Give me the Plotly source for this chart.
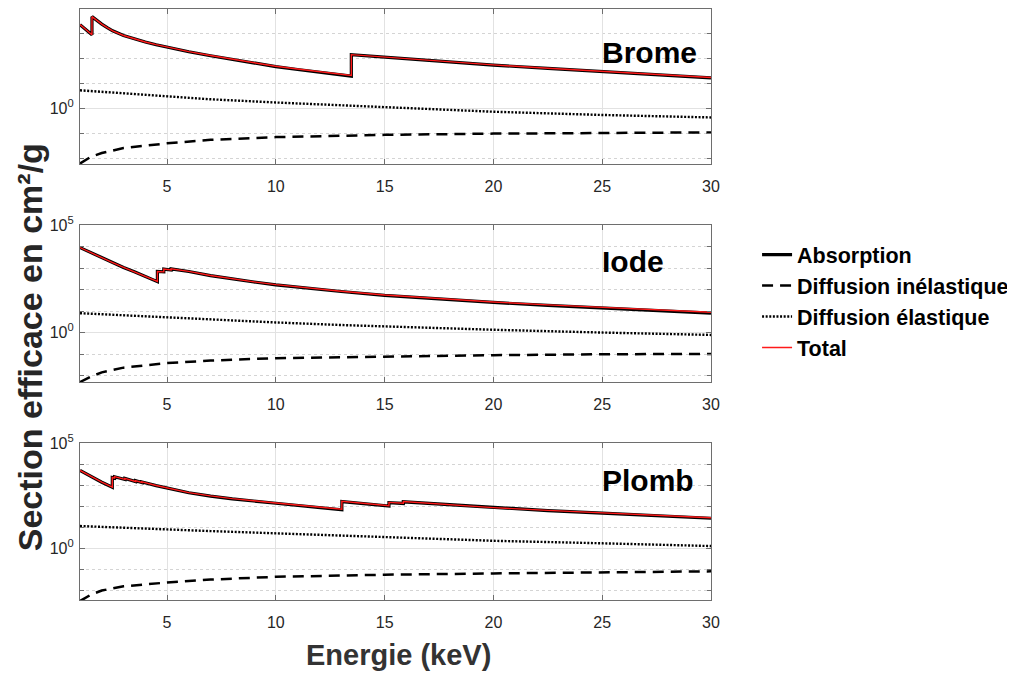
import plotly.graph_objects as go

# ---------------- data (cm²/g vs keV) ----------------
# Brome
br_abs_e = [1.0, 1.55, 1.55, 1.8, 2.0, 2.25, 2.5, 3.0, 3.5, 4.0, 4.5, 5.0, 6.0, 7.0, 8.0, 9.0,
            10.0, 11.0, 12.0, 13.47, 13.47, 15.0, 17.5, 20.0, 22.5, 25.0, 27.5, 30.0]
br_abs = [2290, 891, 4790, 3160, 2400, 1740, 1290, 832, 603, 457, 355, 282, 186, 129, 91, 65,
          47, 36, 28, 19.5, 141, 112, 76, 54, 40, 29.5, 22, 16.6]
br_el_e = [1, 2, 3, 5, 7, 10, 13, 15, 20, 25, 30]
br_el = [5.25, 4.57, 3.89, 2.82, 2.29, 1.70, 1.32, 1.12, 0.724, 0.537, 0.427]
br_inel_e = [1, 1.5, 2, 3, 5, 7, 10, 13, 15, 20, 25, 30]
br_inel = [0.0060, 0.0112, 0.0158, 0.0251, 0.0389, 0.0537, 0.0692, 0.0794, 0.0851, 0.0955, 0.102, 0.107]
br_total = [2300, 896, 4795, 3165, 2405, 1745, 1294, 836, 606, 460, 358, 285, 189, 131, 93, 66.5,
            48.5, 37.5, 29.5, 20.9, 142, 113, 77, 55, 40.6, 30.1, 22.5, 17.1]

# Iode
i_abs_e = [1.0, 1.5, 2.0, 2.5, 3.0, 3.5, 4.0, 4.557, 4.557, 4.852, 4.852, 5.188, 5.188,
           6.0, 7.0, 8.0, 9.0, 10.0, 12.0, 13.0, 15.0, 17.5, 20.0, 22.5, 25.0, 27.5, 30.0]
i_abs = [8910, 5130, 2950, 1780, 1070, 676, 417, 234, 692, 661, 891, 813, 912,
         692, 447, 309, 224, 166, 100, 81.3, 53.7, 35.5, 25.1, 18.2, 13.5, 10.2, 7.94]
i_el_e = [1, 2, 3, 5, 7, 10, 13, 15, 20, 25, 30]
i_el = [7.94, 7.08, 6.17, 5.01, 3.98, 2.95, 2.24, 1.91, 1.35, 1.00, 0.776]
i_inel_e = [1, 1.5, 2, 3, 5, 7, 10, 13, 15, 20, 25, 30]
i_inel = [0.0050, 0.0089, 0.0141, 0.0234, 0.0380, 0.0501, 0.0646, 0.0724, 0.0776, 0.0891, 0.0977, 0.102]
i_total = [8920, 5137, 2957, 1786, 1076, 681, 421, 238, 696, 665, 895, 817, 916,
           696, 451, 312, 227, 169, 102, 83.6, 55.7, 37.1, 26.5, 19.4, 14.6, 11.1, 8.8]

# Plomb
pb_abs_e = [1.0, 1.5, 2.0, 2.484, 2.484, 2.586, 2.586, 3.066, 3.066, 3.554, 3.554, 3.851, 3.851,
            4.5, 5.0, 6.0, 7.0, 8.0, 10.0, 12.0, 13.035, 13.035, 14.0, 15.2, 15.2, 15.86, 15.86,
            17.5, 20.0, 22.5, 25.0, 27.5, 30.0]
pb_abs = [5010, 2510, 1380, 794, 2290, 2140, 2510, 1860, 2090, 1480, 1620, 1320, 1410,
          955, 724, 437, 302, 224, 138, 85.1, 67.6, 166, 132, 102, 148, 135, 162,
          126, 83.2, 61.7, 46.8, 35.5, 26.9]
pb_el_e = [1, 2, 3, 5, 7, 10, 13, 15, 20, 25, 30]
pb_el = [11.5, 10.7, 9.55, 7.94, 6.61, 5.13, 3.89, 3.31, 2.29, 1.74, 1.29]
pb_inel_e = [1, 1.5, 2, 3, 5, 7, 10, 13, 15, 20, 25, 30]
pb_inel = [0.00316, 0.0063, 0.0100, 0.0158, 0.0240, 0.0331, 0.0447, 0.0525, 0.0562, 0.0646, 0.0724, 0.0813]
pb_total = [5020, 2521, 1391, 804, 2300, 2150, 2520, 1870, 2099, 1489, 1629, 1329, 1419,
            963, 732, 444, 308, 229, 143, 89, 71.5, 170, 136, 105.5, 151.5, 138.5, 165.5,
            129, 85.6, 63.8, 48.6, 37.1, 28.3]

x_ticks = [5, 10, 15, 20, 25, 30]
y_tickvals = [1, 1e5]
y_ticktext = ["10<sup>0</sup>", "10<sup>5</sup>"]
decades = [1e-2, 1e-1, 1e1, 1e2, 1e3, 1e4]
panel_names = ["Brome", "Iode", "Plomb"]
legend_names = ["Absorption", "Diffusion inélastique", "Diffusion élastique", "Total"]

# ---------------- figure ----------------
FONT = "Liberation Sans, Arial, sans-serif"
panels = [
    (br_abs_e, br_abs, br_el_e, br_el, br_inel_e, br_inel, br_total),
    (i_abs_e, i_abs, i_el_e, i_el, i_inel_e, i_inel, i_total),
    (pb_abs_e, pb_abs, pb_el_e, pb_el, pb_inel_e, pb_inel, pb_total),
]
y_domains = [[0.7365, 0.998], [0.3682, 0.6334], [0.0, 0.2652]]
y_ranges = [[-2.24, 3.98], [-2.3, 5.0], [-2.45, 5.0]]
label_pos = [0.72, 0.765, 0.76]

fig = go.Figure()
for i, (ea, a, ee, el, ei, inel, tot) in enumerate(panels):
    sfx = "" if i == 0 else str(i + 1)
    xa, ya = "x" + sfx, "y" + sfx
    show = i == 0
    fig.add_trace(go.Scatter(x=ea, y=a, mode="lines", name=legend_names[0],
                             line=dict(color="black", width=3.2), showlegend=show,
                             xaxis=xa, yaxis=ya))
    fig.add_trace(go.Scatter(x=ei, y=inel, mode="lines", name=legend_names[1],
                             line=dict(color="black", width=2.5, dash="11px,7px"),
                             showlegend=show, xaxis=xa, yaxis=ya))
    fig.add_trace(go.Scatter(x=ee, y=el, mode="lines", name=legend_names[2],
                             line=dict(color="black", width=2.4, dash="2px,1.6px"),
                             showlegend=show, xaxis=xa, yaxis=ya))
    fig.add_trace(go.Scatter(x=ea, y=tot, mode="lines", name=legend_names[3],
                             line=dict(color="#ff1a1a", width=1.4), showlegend=show,
                             xaxis=xa, yaxis=ya))

    fig.layout["xaxis" + sfx] = dict(
        domain=[0, 1], anchor=ya, range=[1, 30], tickmode="array", tickvals=x_ticks,
        ticks="inside", ticklen=5, tickcolor="#6e6e6e", showline=True, linecolor="#6e6e6e",
        linewidth=1.2, mirror="ticks", showgrid=True, gridcolor="#e2e2e2", gridwidth=1,
        zeroline=False, ticklabelstandoff=8, automargin=False,
        tickfont=dict(family=FONT, size=16, color="#262626"))
    top_decades = [d for d in decades if d <= 10 ** y_ranges[i][1] * 1.1]
    fig.layout["yaxis" + sfx] = dict(
        domain=y_domains[i], anchor=xa, type="log", range=y_ranges[i], tickmode="array",
        tickvals=y_tickvals, ticktext=y_ticktext, ticks="inside", ticklen=5,
        tickcolor="#6e6e6e", showline=True, linecolor="#6e6e6e", linewidth=1.2,
        mirror="ticks", showgrid=True, gridcolor="#e2e2e2", gridwidth=1, zeroline=False,
        ticklabelstandoff=2, automargin=False,
        tickfont=dict(family=FONT, size=16, color="#262626"),
        minor=dict(tickmode="array", tickvals=top_decades, ticks="inside", ticklen=4,
                   tickcolor="#6e6e6e", showgrid=True, gridcolor="#d4d4d4",
                   griddash="dot", gridwidth=1))
    fig.add_annotation(text="<b>%s</b>" % panel_names[i], xref=xa + " domain",
                       yref=ya + " domain", x=0.824, y=label_pos[i], xanchor="left",
                       yanchor="middle", showarrow=False,
                       font=dict(family=FONT, size=30, color="black"))

fig.add_annotation(text="<b>Section efficace en cm²/g</b>", xref="paper", yref="paper",
                   x=-0.0792, y=0.427, textangle=-90, showarrow=False,
                   xanchor="center", yanchor="middle",
                   font=dict(family=FONT, size=34, color="#262626"))
fig.add_annotation(text="<b>Energie (keV)</b>", xref="paper", yref="paper",
                   x=0.5055, y=-0.093, showarrow=False, xanchor="center", yanchor="middle",
                   font=dict(family=FONT, size=29, color="#333333"))

# the page body adds an 8px offset, so the figure is 8px smaller and shifted
fig.update_layout(
    width=1007, height=665, margin=dict(l=72, r=304, t=0, b=73),
    paper_bgcolor="white", plot_bgcolor="white",
    legend=dict(x=1.073, y=0.618, xanchor="left", yanchor="top",
                font=dict(family=FONT, size=21.5, color="black", weight="bold"),
                bgcolor="rgba(0,0,0,0)", borderwidth=0, traceorder="normal"),
)

fig.write_html("out.html")
